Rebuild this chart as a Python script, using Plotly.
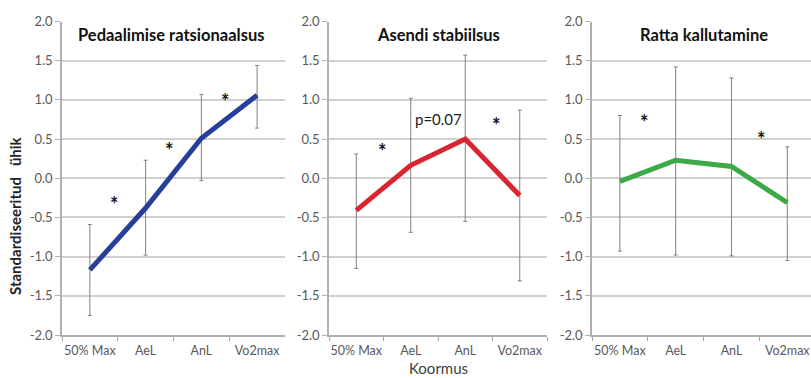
import plotly.graph_objects as go

categories = ["50% Max", "AeL", "AnL", "Vo2max"]
panel_titles = ["Pedaalimise ratsionaalsus", "Asendi stabiilsus", "Ratta kallutamine"]
colors = ["#26409a", "#d8252f", "#3daa47"]

p1_mean = [-1.17, -0.38, 0.51, 1.06]
p1_upper = [-0.59, 0.23, 1.07, 1.44]
p1_lower = [-1.75, -0.98, -0.03, 0.64]

p2_mean = [-0.41, 0.165, 0.50, -0.22]
p2_upper = [0.31, 1.02, 1.57, 0.87]
p2_lower = [-1.15, -0.69, -0.55, -1.31]

p3_mean = [-0.04, 0.23, 0.15, -0.31]
p3_upper = [0.80, 1.42, 1.28, 0.40]
p3_lower = [-0.93, -0.98, -0.99, -1.05]

star1_x = [0.45, 1.43, 2.44]
star1_y = [-0.25, 0.44, 1.06]
star2_x = [0.48, 2.58]
star2_y = [0.42, 0.76]
star3_x = [0.44, 2.53]
star3_y = [0.795, 0.58]
pnote_x, pnote_y, pnote_text = 1.5, 0.76, "p=0.07"

y_ticks = [-2.0, -1.5, -1.0, -0.5, 0.0, 0.5, 1.0, 1.5, 2.0]
y_label = "Standardiseeritud   ühik"
x_label = "Koormus"

W, H = 811, 378
domains = [(62 / W, 285 / W), (329 / W, 547 / W), (592 / W, 1.0)]
xranges = [[-0.5, 3.5], [-0.5, 3.5], [-0.5, 3.425]]
ydom = (1 - 335 / H, 1 - 21.5 / H)

means = [p1_mean, p2_mean, p3_mean]
uppers = [p1_upper, p2_upper, p3_upper]
lowers = [p1_lower, p2_lower, p3_lower]
stars = [(star1_x, star1_y), (star2_x, star2_y), (star3_x, star3_y)]

fig = go.Figure()
font_family = "Lato, 'Open Sans', sans-serif"
annotations = []
layout = {}

for i in range(3):
    xa = "x" if i == 0 else f"x{i+1}"
    ya = "y" if i == 0 else f"y{i+1}"
    m, up, lo = means[i], uppers[i], lowers[i]
    fig.add_trace(go.Scatter(
        x=categories, y=m, mode="lines",
        line=dict(color=colors[i], width=5),
        error_y=dict(type="data", symmetric=False,
                     array=[u - v for u, v in zip(up, m)],
                     arrayminus=[v - l for v, l in zip(m, lo)],
                     color="#808080", thickness=1, width=2),
        xaxis=xa, yaxis=ya, showlegend=False, hoverinfo="skip"))
    key = "xaxis" if i == 0 else f"xaxis{i+1}"
    ykey = "yaxis" if i == 0 else f"yaxis{i+1}"
    layout[key] = dict(
        domain=list(domains[i]), type="category", range=xranges[i],
        tickson="boundaries", ticks="outside", ticklen=4, tickcolor="#a6a6a6",
        tickangle=0, automargin=False, ticklabelstandoff=3,
        showgrid=False, showline=True, linecolor="#b0b0b0", linewidth=1.5,
        anchor=ya, tickfont=dict(size=12.5, color="#595959", family=font_family),
        fixedrange=True)
    layout[ykey] = dict(
        domain=list(ydom), range=[-2.0, 2.0], tickvals=y_ticks,
        ticktext=[f"{v:.1f}" for v in y_ticks], automargin=False,
        ticks="outside", ticklen=5, tickcolor="#b0b0b0",
        showgrid=True, gridcolor="#d0d0d0", gridwidth=1.5,
        showline=True, linecolor="#b0b0b0", linewidth=1.5,
        zeroline=False, anchor=xa,
        tickfont=dict(size=13, color="#595959", family=font_family),
        fixedrange=True)
    annotations.append(dict(
        text=f"<b>{panel_titles[i]}</b>", xref=xa, yref=ya,
        x=1.45 if i == 0 else 1.5, y=1.83, showarrow=False,
        font=dict(size=16.5, color="#111111", family=font_family)))
    sx, sy = stars[i]
    for x, y in zip(sx, sy):
        annotations.append(dict(
            text="<b>*</b>", xref=xa, yref=ya, x=x, y=y, showarrow=False,
            yshift=-6, font=dict(size=20, color="#111111", family=font_family)))

annotations.append(dict(
    text=pnote_text, xref="x2", yref="y2", x=pnote_x, y=pnote_y, showarrow=False,
    font=dict(size=15, color="#222222", family=font_family)))
annotations.append(dict(
    text=f"<b>{y_label}</b>", xref="paper", yref="paper", x=15 / W, y=1 - 216 / H,
    xanchor="center", yanchor="middle",
    textangle=-90, showarrow=False,
    font=dict(size=15, color="#222222", family=font_family)))
annotations.append(dict(
    text=x_label, xref="paper", yref="paper", x=438 / W, y=1 - 368 / H,
    xanchor="center", yanchor="middle",
    showarrow=False, font=dict(size=15, color="#404040", family=font_family)))

fig.update_layout(
    width=W, height=H, margin=dict(l=0, r=0, t=0, b=0, autoexpand=False),
    paper_bgcolor="white", plot_bgcolor="white",
    annotations=annotations, **layout)

fig.write_html("out.html")
